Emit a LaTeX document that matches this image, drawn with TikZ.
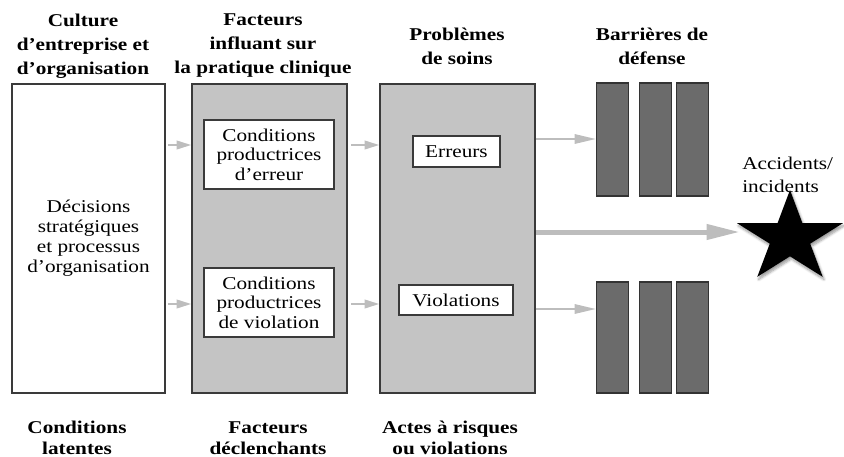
\documentclass[tikz,border=0pt]{standalone}
\usepackage{fontspec}
\setmainfont{Liberation Serif}[FakeStretch=1.18]
\usetikzlibrary{arrows.meta,shadows.blur}
\definecolor{boxgray}{HTML}{C4C4C4}
\definecolor{bargray}{HTML}{6B6B6B}
\definecolor{arrowgray}{HTML}{BDBDBD}
\definecolor{edgegray}{HTML}{3A3A3A}

\begin{document}
\begin{tikzpicture}[x=0.75pt,y=-0.75pt]
\tikzstyle{titre} = [font=\fontsize{13.5}{18}\selectfont\bfseries, align=center, inner sep=0pt]
\tikzstyle{legende} = [font=\fontsize{13.5}{16}\selectfont\bfseries, align=center, inner sep=0pt]
\tikzstyle{bloc} = [draw=edgegray, line width=1.2pt, minimum height=231.75pt, inner sep=0pt, align=center, font=\fontsize{13.5}{15}\selectfont]
\tikzstyle{cadre} = [draw=edgegray, line width=1.2pt, fill=white, inner sep=0pt, align=center, font=\fontsize{13.5}{14.6}\selectfont]
\tikzstyle{barre} = [draw=black!80, line width=0.8pt, fill=bargray, minimum width=24pt, inner sep=0pt]
\tikzstyle{fleche} = [draw=arrowgray, line width=1.5pt, -{Triangle[length=11pt,width=6.5pt]}]

\useasboundingbox (0,0) rectangle (844,457);

% titres
\node[titre] (t1) at (83,46) {Culture\\d’entreprise et\\d’organisation};
\node[titre] (t2) at (263,46) {Facteurs\\influant sur\\la pratique clinique};
\node[titre] (t3) at (457,46) {Problèmes\\de soins};
\node[titre] (t4) at (652,46) {Barrières de\\défense};

% grands blocs
\node[bloc, fill=white, minimum width=114.75pt] (latent) at (88.5,238.5) {Décisions\\stratégiques\\et processus\\d’organisation};
\node[bloc, fill=boxgray, minimum width=116.25pt] (facteurs) at (269.5,238.5) {};
\node[bloc, fill=boxgray, minimum width=116.25pt] (soins) at (457.5,238.5) {};

\node[cadre, minimum width=97.5pt, minimum height=51.75pt] (cpe) at (269,154.5) {Conditions\\productrices\\d’erreur};
\node[cadre, minimum width=97.5pt, minimum height=51.75pt] (cpv) at (269,302.5) {Conditions\\productrices\\de violation};
\node[cadre, minimum width=65.25pt, minimum height=23.25pt] (err) at (456.5,151.5) {Erreurs};
\node[cadre, minimum width=85.5pt, minimum height=22.5pt] (viol) at (456,300) {Violations};

% barrieres
\foreach \x [count=\i] in {612.5,655.5,692.5} {
  \node[barre, minimum height=84.75pt] (haut\i) at (\x,139.5) {};
  \node[barre, minimum height=83.25pt] (bas\i) at (\x,337.5) {};
}

% fleches
\draw[fleche, shorten <=1.5pt] (latent.east |- 0,145) -- (facteurs.west |- 0,145);
\draw[fleche, shorten <=1.5pt] (latent.east |- 0,304) -- (facteurs.west |- 0,304);
\draw[fleche, shorten <=2.5pt] (facteurs.east |- 0,145) -- (soins.west |- 0,145);
\draw[fleche, shorten <=2.5pt] (facteurs.east |- 0,304) -- (soins.west |- 0,304);
\draw[fleche, -{Triangle[length=16pt,width=7pt]}] (soins.east |- 0,139) -- (haut1.west |- 0,139);
\draw[fleche, -{Triangle[length=16pt,width=7pt]}] (soins.east |- 0,309) -- (bas1.west |- 0,309);

\coordinate (etoile) at (740,232);
\draw[fleche, line width=3.75pt, -{Triangle[length=25pt,width=11pt]}] (soins.east |- etoile) -- (etoile);

\node[font=\fontsize{13.5}{17}\selectfont, align=left, anchor=north west, inner sep=0pt] (acc) at (742,157) {Accidents/\\incidents};

% etoile
\begin{scope}[shift={(790,238)}, xscale=1.16]
\fill[black, blur shadow={shadow xshift=1pt, shadow yshift=-2pt, shadow blur steps=6}]
  (270:48) -- (306:18.3) -- (342:48) -- (18:18.3) -- (54:48) -- (90:18.3)
  -- (126:48) -- (162:18.3) -- (198:48) -- (234:18.3) -- cycle;
\end{scope}

% legendes
\node[legende] (l1) at (77,438) {Conditions\\latentes};
\node[legende] (l2) at (268,438) {Facteurs\\déclenchants};
\node[legende] (l3) at (450,438) {Actes à risques\\ou violations};
\end{tikzpicture}
\end{document}
